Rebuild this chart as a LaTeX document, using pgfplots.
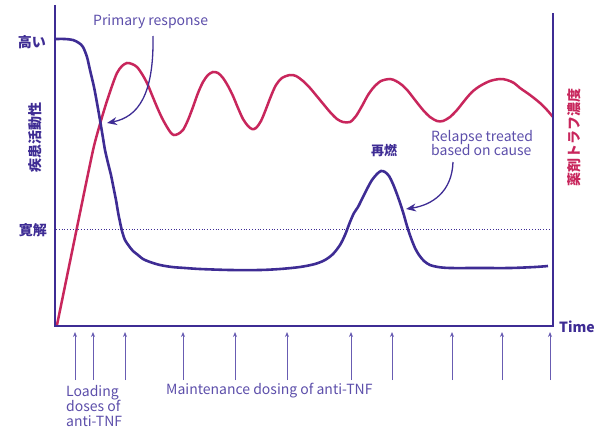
\documentclass[border=0pt]{standalone}
\usepackage{fontspec}
\setmainfont{Noto Sans CJK JP}
\usepackage{pgfplots}
\pgfplotsset{compat=1.18}
\usetikzlibrary{arrows.meta}
\definecolor{dpurple}{RGB}{62,44,148}
\definecolor{tpurple}{RGB}{92,78,170}
\definecolor{apurple}{RGB}{104,92,178}
\definecolor{mag}{RGB}{200,38,92}
\begin{document}
\begin{tikzpicture}
\begin{axis}[
  scale only axis, width=497pt, height=321pt,
  xmin=56, xmax=553, ymin=5, ymax=326, y dir=reverse,
  hide axis, clip=false,
]
% drug trough concentration
\addplot[mag, line width=2.5pt, smooth, tension=0.5] coordinates {
(57,325)(65,286)(73,247)(81,208)(88,174)(94,146)(100,124)(106,104)(112,86)(117,73)(122,66)(127,63)(132,64)(137,67)(142,74)(147,83)(152,95)(157,107)(162,118)(167,127)(171,133)(174,135)(178,134)(183,130)(188,120)(193,107)(198,93)(203,82)(208,75)(213,72)(218,73)(223,78)(228,86)(233,96)(238,108)(243,119)(248,126)(252,129)(256,128)(261,121)(266,109)(271,96)(276,85)(282,78)(290,75)(296,76)(303,81)(310,88)(320,100)(330,112)(337,119)(343,122)(350,122)(356,116)(362,106)(368,95)(374,87)(381,81)(390,79)(396,81)(402,85)(408,91)(415,100)(423,110)(430,117)(437,121)(443,121)(450,117)(457,110)(465,100)(472,92)(480,86)(490,81)(500,79)(507,80)(514,83)(520,88)(530,95)(540,103)(547,110)(553,117)
};
% disease activity
\addplot[dpurple, line width=2.6pt, smooth, tension=0.5] coordinates {
(56,39)(65,39)(73,40)(79,43)(83,47)(87,57)(90,70)(94,87)(97,103)(100,120)(103,138)(105,150)(108,163)(111,175)(113,185)(116,200)(118,212)(120,222)(122,231)(125,240)(129,246)(133,251)(138,255)(143,259)(150,262)(160,265)(172,267)(185,268)(200,269)(230,270)(260,270)(280,269)(300,267)(315,264)(325,260)(333,254)(340,245)(345,235)(350,222)(354,213)(358,207)(362,199)(367,189)(372,180)(377,174)(381,171)(385,172)(389,176)(393,184)(398,197)(403,212)(407,226)(411,238)(415,248)(419,255)(424,261)(430,265)(438,267)(450,268)(480,268)(510,268)(535,267)(548,266)
};
% remission line
\addplot[dpurple, line width=0.8pt, dotted] coordinates {(56,229)(553,229)};
% axis lines
\draw[dpurple, line width=2.8pt, line join=miter] (axis cs:55,5) -- (axis cs:55,326) -- (axis cs:553,326) -- (axis cs:553,13);
% dosing arrows
\pgfplotsinvokeforeach{75,93,125,183,235,287,351,392,452,502,550}{
  \draw[apurple, line width=0.9pt, -{Stealth[length=5pt,width=4pt]}] (axis cs:#1,380) -- (axis cs:#1,332);
}
% annotation arrows
\draw[dpurple, line width=1.3pt, -{Stealth[length=10pt,width=8pt]}] (axis cs:153,36) .. controls (axis cs:154,95) and (axis cs:138,117) .. (axis cs:107,123);
\draw[dpurple, line width=1.3pt, -{Stealth[length=10pt,width=8pt]}] (axis cs:453,162) .. controls (axis cs:452,192) and (axis cs:432,205) .. (axis cs:406,209);
% texts
\node[anchor=west, text=tpurple, font=\fontsize{14}{15}\selectfont, inner sep=0pt] at (axis cs:93,22) {Primary response};
\node[anchor=west, text=tpurple, font=\fontsize{14}{14.5}\selectfont, align=left, inner sep=0pt] at (axis cs:431,143) {Relapse treated\\based on cause};
\node[text=dpurple, font=\bfseries\fontsize{13}{15}\selectfont, inner sep=0pt] at (axis cs:384,151) {再燃};
\node[text=dpurple, font=\bfseries\fontsize{14}{16}\selectfont, inner sep=0pt] at (axis cs:32,42) {高い};
\node[text=dpurple, font=\bfseries\fontsize{14}{16}\selectfont, inner sep=0pt, rotate=90] at (axis cs:35,137) {疾患活動性};
\node[text=dpurple, font=\bfseries\fontsize{14}{16}\selectfont, inner sep=0pt] at (axis cs:33,230) {寛解};
\node[text=mag, font=\bfseries\fontsize{14}{16}\selectfont, inner sep=0pt, rotate=90] at (axis cs:574,137) {薬剤トラフ濃度};
\node[anchor=west, text=dpurple, font=\bfseries\fontsize{14}{16}\selectfont, inner sep=0pt] at (axis cs:559,327) {Time};
\node[anchor=north west, text=tpurple, font=\fontsize{14}{15}\selectfont, align=left, inner sep=0pt] at (axis cs:66,385) {Loading\\doses of\\anti-TNF};
\node[anchor=west, text=tpurple, font=\fontsize{14}{15}\selectfont, inner sep=0pt] at (axis cs:166,391) {Maintenance dosing of anti-TNF};
\coordinate (bl) at (axis cs:0,433);
\coordinate (tr) at (axis cs:605,0);
\end{axis}
\pgfresetboundingbox
\path[use as bounding box] (bl) rectangle (tr);
\end{tikzpicture}
\end{document}
